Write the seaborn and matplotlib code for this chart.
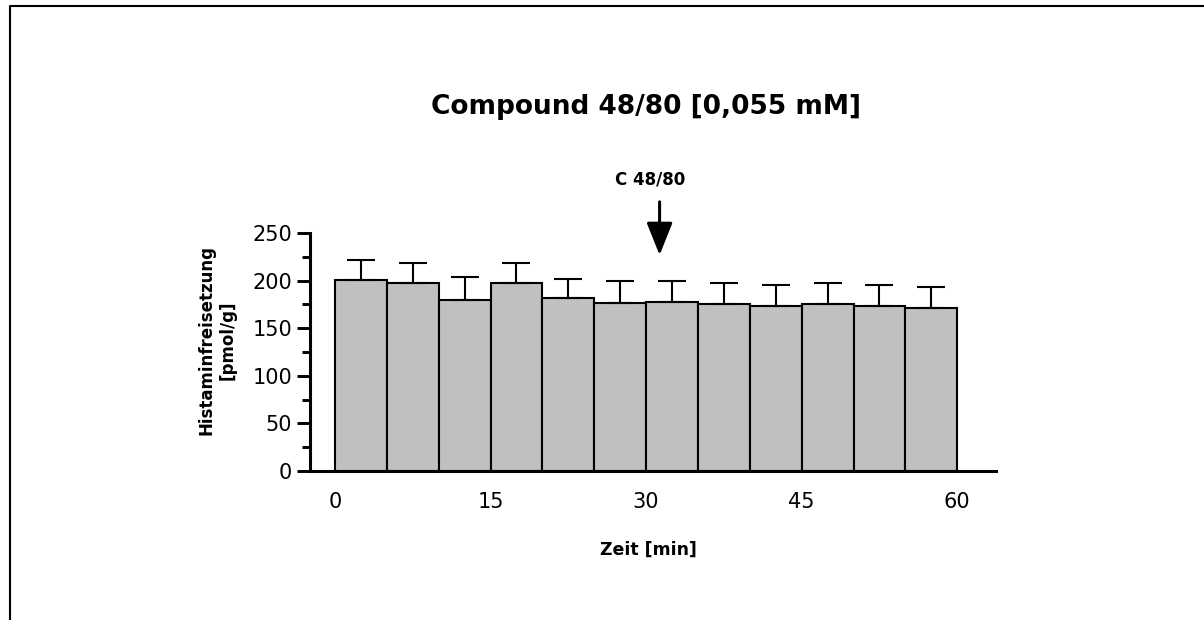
import matplotlib
matplotlib.use("Agg")
import matplotlib.pyplot as plt
from matplotlib.lines import Line2D
import numpy as np
import pandas as pd
import seaborn as sns

# data (5-min fractions, 0-60 min)
time_min = [2.5, 7.5, 12.5, 17.5, 22.5, 27.5, 32.5, 37.5, 42.5, 47.5, 52.5, 57.5]
histamine = [201.0, 198.0, 179.5, 198.0, 181.3, 176.8, 177.0, 175.0, 172.9, 175.3, 172.9, 171.5]
sem = [20.8, 20.6, 24.0, 20.6, 20.1, 22.8, 22.3, 22.5, 22.8, 22.2, 22.1, 21.4]
x_ticks = [0, 15, 30, 45, 60]
y_ticks = [0, 50, 100, 150, 200, 250]
stim_time = 31.3
stim_label = "C 48/80"

df = pd.DataFrame({"time": time_min, "histamine": histamine, "sem": sem})

sns.set_theme(style="ticks")
plt.rcParams["font.family"] = ["DejaVu Sans"]
for key in ["text.color", "axes.labelcolor", "xtick.color", "ytick.color", "axes.edgecolor"]:
    plt.rcParams[key] = "black"

W, H = 1204, 620
fig = plt.figure(figsize=(W / 100, H / 100), dpi=100)

# axes box in pixels: left 310, right 996, top 233, bottom 471
ax = fig.add_axes([310 / W, 1 - 471 / H, (996 - 310) / W, (471 - 233) / H])

sns.barplot(
    data=df,
    x="time",
    y="histamine",
    native_scale=True,
    width=1.0,
    color="#c0c0c0",
    saturation=1,
    edgecolor="black",
    linewidth=1.5,
    errorbar=None,
    ax=ax,
)
ax.errorbar(
    df["time"],
    df["histamine"],
    yerr=[np.zeros(len(df)), df["sem"]],
    fmt="none",
    ecolor="black",
    elinewidth=1.5,
    capsize=10,
    capthick=1.5,
    zorder=5,
)

ax.set_xlim(-2.41, 63.74)
ax.set_ylim(0, 250)
ax.set_xticks(x_ticks)
ax.set_xticklabels([str(t) for t in x_ticks], fontsize=15)
ax.set_yticks(y_ticks)
ax.set_yticklabels([str(t) for t in y_ticks], fontsize=15)
ax.set_yticks(np.arange(25, 250, 50), minor=True)
ax.tick_params(axis="x", length=0, pad=15)
ax.tick_params(axis="y", which="major", length=9.5, width=2.1, pad=3.5)
ax.tick_params(axis="y", which="minor", length=6, width=2.1)

for side in ["top", "right"]:
    ax.spines[side].set_visible(False)
ax.spines["left"].set_linewidth(2.2)
ax.spines["bottom"].set_linewidth(2.2)
ax.spines["bottom"].set_bounds(-2.12, 63.74)

ax.set_xlabel("Zeit [min]", fontsize=12.5, fontweight="bold")
ax.xaxis.set_label_coords(0.494, -0.332)
ax.xaxis.label.set_va("center")
ax.set_ylabel("Histaminfreisetzung\n[pmol/g]", fontsize=12, fontweight="bold",
              linespacing=1.25, multialignment="center")
ax.yaxis.set_label_coords(-0.1356, 0.55)
ax.yaxis.label.set_va("center")

# stimulus arrow
ax.annotate(
    "",
    xy=(stim_time, 226.8),
    xytext=(stim_time, 282.7),
    arrowprops=dict(arrowstyle="-|>,head_length=1.0,head_width=0.4",
                    mutation_scale=20, lw=2.2, color="black",
                    shrinkA=0, shrinkB=0),
    annotation_clip=False,
)
ax.text(stim_time - 0.9, 306, stim_label, ha="center", va="center",
        fontsize=12, fontweight="bold", clip_on=False)

fig.text(646 / W, 1 - 107 / H, "Compound 48/80 [0,055 mM]", ha="center",
         va="center", fontsize=19, fontweight="bold")

# outer frame (left and top edges)
fig.add_artist(Line2D([10 / W, 10 / W, 1.0], [0.0, 1 - 6 / H, 1 - 6 / H],
                      transform=fig.transFigure, color="black", lw=1.5))

fig.savefig("out.png", dpi=100)
